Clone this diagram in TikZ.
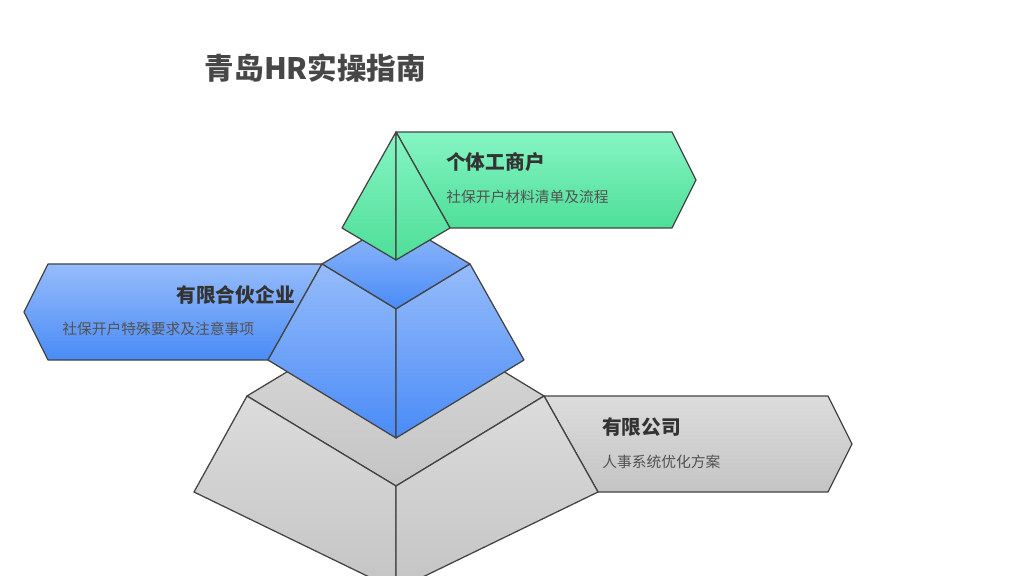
\documentclass[tikz,border=0pt]{standalone}
\usepackage{fontspec}
\setmainfont{Noto Sans CJK SC}
\usetikzlibrary{positioning}
\definecolor{edge}{HTML}{444444}
\definecolor{txt}{HTML}{333333}
\definecolor{bluetop}{HTML}{96BCFB}
\definecolor{bluebot}{HTML}{4A8BF6}
\definecolor{greentop}{HTML}{86F5C4}
\definecolor{greenbot}{HTML}{4EDE98}
\definecolor{graytop}{HTML}{DCDCDC}
\definecolor{graybot}{HTML}{C4C4C4}
\begin{document}
\begin{tikzpicture}[x=0.025cm,y=-0.025cm,
    face/.style={draw=edge, line width=0.9pt, line join=round},
    grayface/.style={face, top color=graytop, bottom color=graybot},
    blueface/.style={face, top color=bluetop, bottom color=bluebot},
    greenface/.style={face, top color=greentop, bottom color=greenbot},
    head/.style={font=\bfseries\fontsize{14}{16}\selectfont, text=txt, inner sep=0pt},
    sub/.style={font=\fontsize{10.5}{12}\selectfont, text=txt!85, inner sep=0pt}
]
\useasboundingbox (0,0) rectangle (1024,576);
\clip (0,0) rectangle (1024,576);

% Title
\node[anchor=west, font=\bfseries\fontsize{21}{24}\selectfont, text=txt!90] (title) at (200,68) {青岛HR实操指南};

% Bottom tier
\draw[grayface] (544,396) -- (828,396) -- (852,444) -- (828,492) -- (598,492) -- cycle;
\draw[grayface] (247,396) -- (396,306) -- (544,396) -- (396,486) -- cycle;
\draw[grayface] (247,396) -- (396,486) -- (396,590) -- (194,492) -- cycle;
\draw[grayface] (396,486) -- (544,396) -- (598,492) -- (396,590) -- cycle;
\node[head, anchor=west] (ltd) at (602,427) {有限公司};
\node[sub, anchor=west] (ltdsub) at (602,462) {人事系统优化方案};

% Middle tier
\draw[blueface] (322,264) -- (48,264) -- (24,312) -- (48,360) -- (268,360) -- cycle;
\draw[blueface] (322,264) -- (396,220) -- (470,264) -- (396,309) -- cycle;
\draw[blueface] (322,264) -- (396,309) -- (396,438) -- (268,360) -- cycle;
\draw[blueface] (396,309) -- (470,264) -- (524,360) -- (396,438) -- cycle;
\node[head, anchor=east] (lp) at (295,295) {有限合伙企业};
\node[sub, anchor=west] (lpsub) at (62,329) {社保开户特殊要求及注意事项};

% Top tier
\draw[greenface] (396,132) -- (672,132) -- (696,180) -- (672,228) -- (450,228) -- cycle;
\draw[greenface] (396,132) -- (396,260) -- (342,228) -- cycle;
\draw[greenface] (396,132) -- (450,228) -- (396,260) -- cycle;
\node[head, anchor=west] (ind) at (446,162) {个体工商户};
\node[sub, anchor=west] (indsub) at (446,197) {社保开户材料清单及流程};
\end{tikzpicture}
\end{document}
